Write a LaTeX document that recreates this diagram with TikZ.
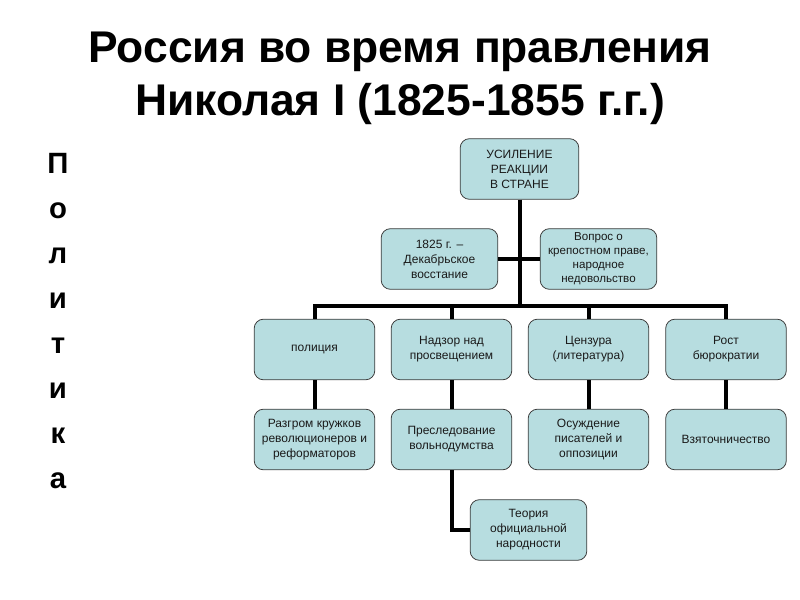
\documentclass[tikz,border=0pt]{standalone}
\usepackage{fontspec}
\setmainfont{Liberation Sans}
\usetikzlibrary{positioning,calc}
\definecolor{ink}{HTML}{1A1A1A}
\definecolor{teal}{HTML}{B7DDE0}
\definecolor{edge}{HTML}{3C3C3C}
\tikzset{
  box/.style   ={draw=edge, fill=teal, rounded corners=7pt, align=center, inner xsep=2pt,
                 inner ysep=0pt, font=\fontsize{9}{11.2}\selectfont, line width=.6pt, text=ink,
                 minimum width=90.5pt, minimum height=45.5pt},
  mid/.style   ={box, minimum width=87.5pt},
  link/.style  ={line width=3pt, draw=black},
  ttl/.style   ={font=\bfseries\fontsize{33.3}{40}\selectfont, align=center, text=black},
  side/.style  ={font=\bfseries\fontsize{22}{33.75}\selectfont, align=center, text=black},
}
\begin{document}
\begin{tikzpicture}[x=0.75pt,y=-0.75pt]
  \useasboundingbox (0,0) rectangle (800,600);
  \node[ttl](title) at (400,78){Россия во время правления\\Николая I (1825-1855 г.г.)};
  \node[side](pol) at (58,321){П\\о\\л\\и\\т\\и\\к\\а};
  % top and causes
  \node[box, minimum width=89pt](top) at (519.5,169){УСИЛЕНИЕ\\РЕАКЦИИ\\ В СТРАНЕ};
  \node[mid](dek) at (439.5,259){1825 г. --\\Декабрьское\\восстание};
  \node[mid, font=\fontsize{8.7}{10.5}\selectfont](vop) at (598.5,259){Вопрос о\\крепостном праве,\\народное\\недовольство};
  \coordinate (hub) at (519.5,306);
  % first row
  \node[box](polc) at (314.5,349.5){полиция};
  \node[box](nad)  at (451.5,349.5){Надзор над\\просвещением};
  \node[box](cen)  at (588.5,349.5){Цензура\\(литература)};
  \node[box](rost) at (726,349.5){Рост\\бюрократии};
  % second row
  \node[box](razg) at (314.5,439.5){Разгром кружков\\революционеров и\\реформаторов};
  \node[box](pres) at (451.5,439.5){Преследование\\вольнодумства};
  \node[box](osu)  at (588.5,439.5){Осуждение\\писателей и\\оппозиции};
  \node[box](vzy)  at (726,439.5){Взяточничество};
  \node[mid](teo)  at (528.5,530){Теория\\официальной\\народности};
  \draw[link](top)--(hub);
  \draw[link](dek.east)--(vop.west);
  \draw[link](polc.north)--(polc.north|-hub)--(rost.north|-hub)--(rost.north);
  \draw[link](nad.north)--(nad.north|-hub);
  \draw[link](cen.north)--(cen.north|-hub);
  \draw[link](polc)--(razg);
  \draw[link](nad)--(pres);
  \draw[link](cen)--(osu);
  \draw[link](rost)--(vzy);
  \draw[link](pres.south)|-(teo.west);
\end{tikzpicture}
\end{document}
